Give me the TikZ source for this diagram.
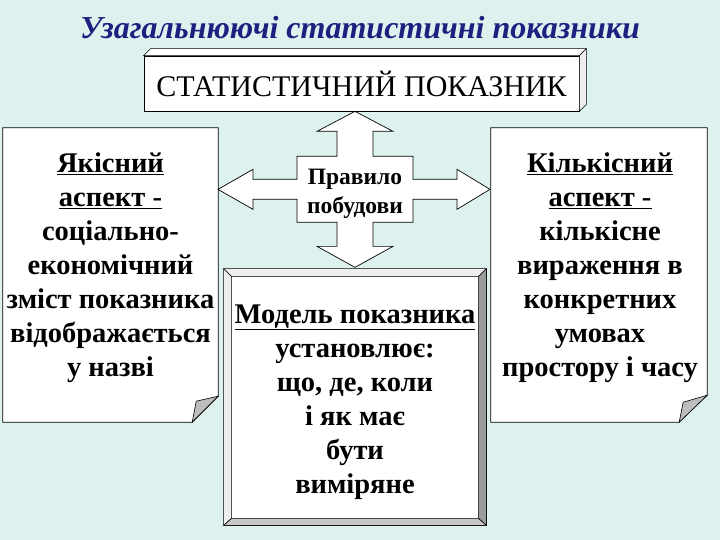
\documentclass[tikz,border=0pt]{standalone}
\usepackage{fontspec}
\setmainfont{Liberation Serif}
\usepackage{xcolor}
\usepackage{tikz}
\usetikzlibrary{positioning,calc}
\definecolor{SLDback}{HTML}{DDF2EE}
\definecolor{SLDtitle}{HTML}{1F1F80}
\definecolor{SLDfold}{HTML}{BDBDBD}
\definecolor{SLDlight}{HTML}{EEEEEE}
\definecolor{SLDmid}{HTML}{C8C8C8}
\definecolor{SLDdark}{HTML}{9C9C9C}
\tikzset{
  titletext/.style={font=\fontsize{32}{38}\selectfont\bfseries\itshape, text=SLDtitle, inner sep=0pt},
  statbox/.style={draw=black, fill=white, line width=0.7pt, font=\fontsize{30}{34}\selectfont, inner sep=0pt},
  boxface/.style={draw=black, line width=0.6pt, fill=#1},
  pagebox/.style={inner sep=0pt, minimum height=294pt},
  pageline/.style={draw=black, fill=white, line width=0.7pt},
  foldtip/.style={draw=black, fill=SLDfold, line width=0.6pt},
  boxtext/.style={align=center, font=\fontsize{28.5}{34}\selectfont\bfseries, text=black, inner sep=0pt},
  ruletext/.style={align=center, font=\fontsize{23.5}{29}\selectfont\bfseries, text=black, inner sep=0pt},
  crossarrow/.style={draw=black, fill=white, line width=0.7pt, line join=miter}
}

\begin{document}
\begin{tikzpicture}[x=1pt, y=-1pt]
  \fill[SLDback] (0,0) rectangle (720,540);
  \useasboundingbox (0,0) rectangle (720,540);
  \node[titletext] (title) at (360,28) {Узагальнюючі статистичні показники};

  % top box
  \node[statbox, minimum width=435pt, minimum height=55pt] (stat) at (361.5,83.5) {СТАТИСТИЧНИЙ ПОКАЗНИК};
  \draw[boxface=white] (stat.north west) -- ++(7,-7) -- ($(stat.north east)+(7,-7)$) -- (stat.north east) -- cycle;
  \draw[boxface=SLDlight] (stat.north east) -- ++(7,-7) -- ($(stat.south east)+(7,-7)$) -- (stat.south east) -- cycle;

  % left page
  \node[pagebox, minimum width=215pt] (quality) at (110.5,275) {};
  \draw[pageline] (quality.north west) -- (quality.north east) -- ($(quality.south east)+(0,-26)$)
    -- ($(quality.south east)+(-26,0)$) -- (quality.south west) -- cycle;
  \draw[foldtip] ($(quality.south east)+(0,-26)$) -- ($(quality.south east)+(-22,-21)$) -- ($(quality.south east)+(-26,0)$) -- cycle;
  \node[boxtext] (qualitytext) at (110.5,268) {\underline{Якісний}\\\underline{аспект -}\\соціально-\\економічний\\зміст показника\\відображається\\у назві};

  % right page
  \node[pagebox, minimum width=216pt] (quantity) at (599,275) {};
  \draw[pageline] (quantity.north west) -- (quantity.north east) -- ($(quantity.south east)+(0,-27)$)
    -- ($(quantity.south east)+(-28,0)$) -- (quantity.south west) -- cycle;
  \draw[foldtip] ($(quantity.south east)+(0,-27)$) -- ($(quantity.south east)+(-24,-20)$) -- ($(quantity.south east)+(-28,0)$) -- cycle;
  \node[boxtext] (quantitytext) at (600,268) {\underline{Кількісний}\\\underline{аспект -}\\кількісне\\вираження в\\конкретних\\умовах\\простору і часу};

  % model box
  \node[draw=black, fill=white, line width=0.7pt, minimum width=262pt, minimum height=256pt] (model) at (355,397) {};
  \draw[boxface=SLDlight] (model.north west) -- (model.north east) -- ++(-8,8) -- ($(model.north west)+(8,8)$) -- cycle;
  \draw[boxface=SLDlight] (model.north west) -- ++(8,8) -- ($(model.south west)+(8,-7)$) -- (model.south west) -- cycle;
  \draw[boxface=SLDdark] (model.north east) -- ++(-8,8) -- ($(model.south east)+(-8,-7)$) -- (model.south east) -- cycle;
  \draw[boxface=SLDmid] (model.south west) -- ++(8,-7) -- ($(model.south east)+(-8,-7)$) -- (model.south east) -- cycle;
  \node[boxtext] (modeltext) at (355,402) {\underline{Модель показника}\\установлює:\\що, де, коли\\і як має\\бути\\виміряне};

  % cross arrow
  \coordinate (rulec) at (355,190);
  \draw[crossarrow] (rulec |- stat.south) -- ++(38,20) -- ++(-20,0) -- ++(0,25) -- ++(40,0) -- ++(0,23)
    -- ++(44,0) -- ++(0,-10) -- ++(33,20) -- ++(-33,20) -- ++(0,-10) -- ++(-44,0) -- ++(0,23)
    -- ++(-40,0) -- ++(0,24) -- ++(20,0) -- ++(-38,21) -- ++(-38,-21) -- ++(20,0) -- ++(0,-24)
    -- ++(-40,0) -- ++(0,-23) -- ++(-44,0) -- ++(0,10) -- ++(-35,-20) -- ++(35,-20) -- ++(0,10)
    -- ++(44,0) -- ++(0,-23) -- ++(40,0) -- ++(0,-25) -- ++(-20,0) -- cycle;
  \node[ruletext] (rule) at (355,194) {Правило\\побудови};
\end{tikzpicture}
\end{document}
